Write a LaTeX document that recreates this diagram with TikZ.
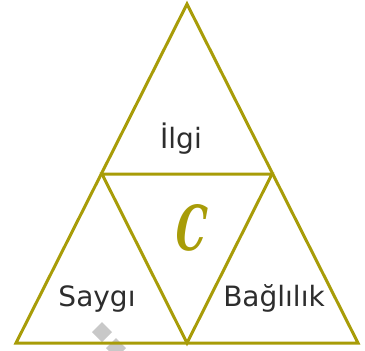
\documentclass[tikz,border=0pt]{standalone}
\usepackage{fontspec}
\setmainfont{DejaVu Sans}
\newfontfamily\corefont{DejaVu Serif}
\usepackage{xcolor}
\usepackage{tikz}
\usetikzlibrary{positioning, calc}
\definecolor{TriOlive}{RGB}{168,156,8}
\definecolor{InkGray}{RGB}{45,45,45}
\definecolor{MarkGray}{RGB}{200,200,200}

\begin{document}
\begin{tikzpicture}[x=1pt, y=-1pt,
          edge/.style={draw=TriOlive, line width=3pt, line join=miter},
          word/.style={anchor=base, text=InkGray,
                       font=\fontsize{28}{28}\selectfont},
          centre/.style={anchor=base, text=TriOlive, transform shape,
                         xscale=0.62, xslant=0.3,
                         font=\fontsize{62}{62}\selectfont\corefont\bfseries},
          wmark/.style={fill=MarkGray, draw=none}
        ]
        \useasboundingbox (0,0) rectangle (365,351);

        % watermark fragments
        \fill[wmark] (102,322) -- (112,332) -- (102,342) -- (92,332) -- cycle;
        \fill[wmark] (116,338) -- (126,348) -- (116,358) -- (106,348) -- cycle;

        % corners
        \coordinate (top)   at (187,4);
        \coordinate (left)  at (16,343);
        \coordinate (right) at (358,343);
        \coordinate (ml)    at (102,174);
        \coordinate (mr)    at (272,174);
        \coordinate (mb)    at (187,343);

        \draw[edge] (top) -- (right) -- (left) -- cycle;
        \draw[edge] (ml) -- (mr) -- (mb) -- cycle;

        \node[word] (ilgi)    at (181,148) {İlgi};
        \node[word] (saygi)   at (97,306)  {Saygı};
        \node[word] (baglilik) at (274,306) {Bağlılık};
        \node[centre] (core)  at (188,250) {C};
      \end{tikzpicture}
\end{document}
